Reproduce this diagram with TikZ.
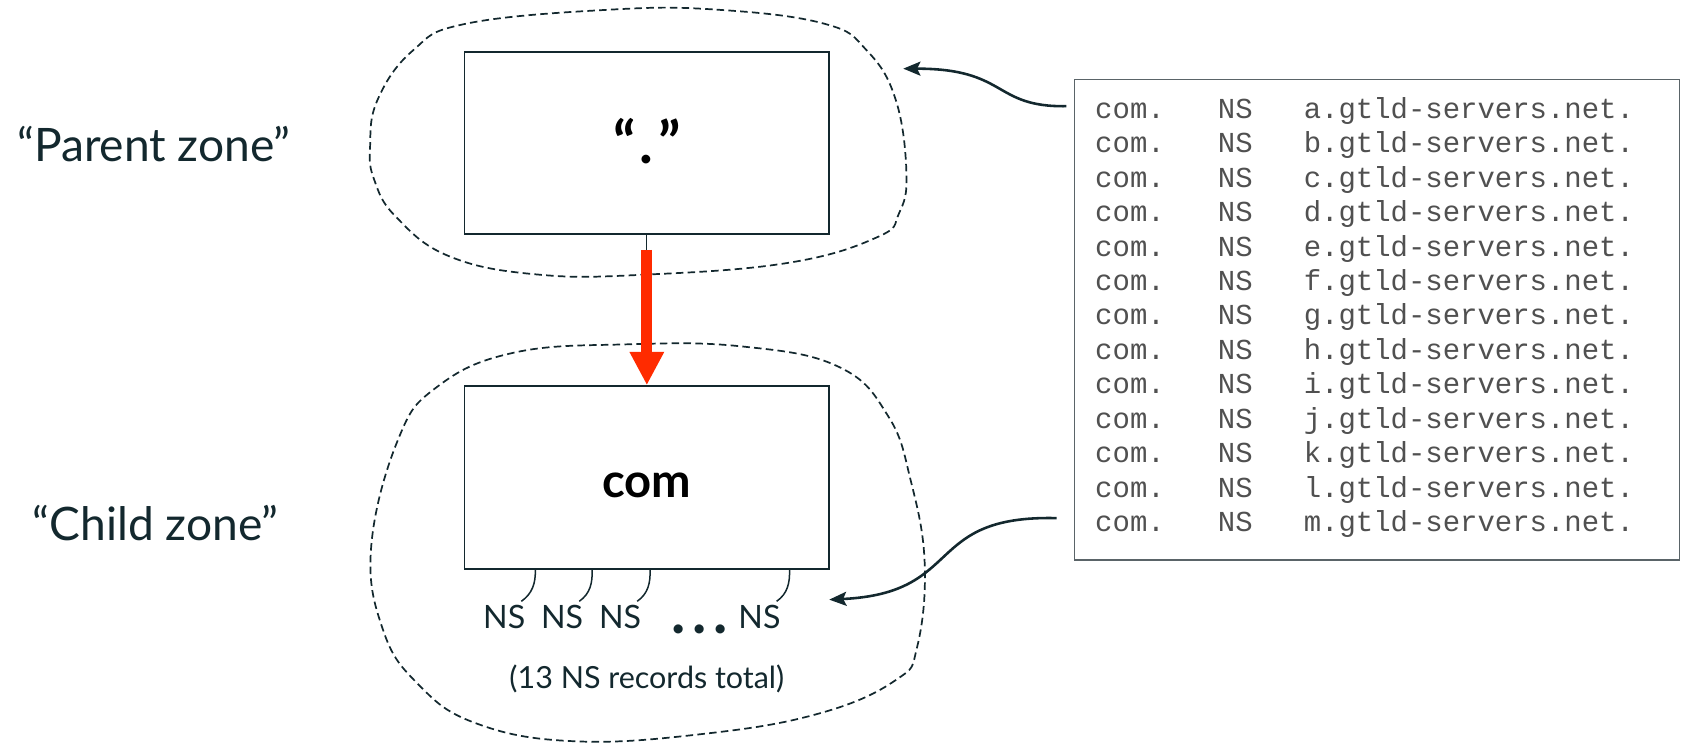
\documentclass[tikz,border=0pt]{standalone}
\usepackage{fontspec}
\setmainfont{Lato}
\setmonofont{Liberation Mono}
\usepackage{tikz}
\usetikzlibrary{arrows.meta,calc,positioning}
\definecolor{inkdark}{HTML}{13282E}
\definecolor{recgray}{HTML}{505050}
\definecolor{recline}{HTML}{5A6468}
\definecolor{delegred}{HTML}{FF2B00}
\tikzset{every picture/.style={
  >={Stealth[length=8pt,width=6.5pt,inset=1.5pt]}  % Filled pointer heads.
  }
}

\begin{document}
\begin{tikzpicture}[
    x=0.5pt,
    y=-0.5pt,
    zonebox/.style={
      rectangle,
      draw=inkdark,
      line width=0.9pt,
      minimum width=170pt,
      minimum height=85pt,
      text height=19pt,
      text depth=0pt,
      inner sep=0pt,
      font=\fontsize{22}{22}\selectfont\bfseries
    },
    zonelabel/.style={
      anchor=base,
      text=inkdark,
      font=\fontsize{21.5}{24}\selectfont
    },
    zoneline/.style={
      draw=inkdark,
      line width=0.8pt,
      dash pattern=on 3.5pt off 2pt
    },
    nsrec/.style={
      anchor=base,
      inner sep=0pt,
      text=inkdark,
      font=\fontsize{15}{15}\selectfont
    },
    nslink/.style={draw=inkdark, line width=0.7pt},
    rec/.style={
      anchor=base west,
      inner sep=0pt,
      text=recgray,
      font=\ttfamily\fontsize{13.5}{13.5}\selectfont
    },
    pointer/.style={->, draw=inkdark, line width=1.2pt},
    delegation/.style={
      draw=delegred,
      line width=5pt,
      -{Triangle[length=15.5pt,width=15pt]}
    }]

    \useasboundingbox (0,0) rectangle (1568,695);

    % The two zones, each a box inside a dashed outline.
    \draw[zoneline] plot[smooth cycle, tension=0.7] coordinates {
      (569,9) (668,9) (768,22) (808,47) (835,93) (845,162) (838,199)
      (818,221) (735,245) (602,256) (502,256) (419,239) (369,202)
      (349,168) (345,137) (352,93) (385,47) (435,22)};
    \draw[zoneline] plot[smooth cycle, tension=0.7] coordinates {
      (585,321) (692,323) (782,342) (828,388) (849,448) (862,525)
      (855,603) (835,634) (764,665) (657,684) (535,691) (443,674)
      (389,637) (357,587) (346,510) (371,410) (407,361) (478,329)};

    \node[zonebox, font=\fontsize{27}{27}\selectfont\bfseries] (root)
      at (603,133.5) {“\hspace{2pt}.\hspace{2pt}”};
    \node[zonebox] (com) at (603,445) {com};

    \node[zonelabel] (parentlbl) at (143.5,150.7) {“Parent zone”};
    \node[zonelabel] (childlbl) at (145,503.4) {“Child zone”};

    % Delegation from the root down to com.
    \coordinate (redstart) at ([yshift=-6.8pt]root.south);
    \draw[draw=inkdark, line width=0.5pt] (root.south) -- (redstart);
    \draw[delegation] (redstart) -- (com.north);

    % NS records hanging below the child box.
    \node[nsrec] (ns1) at (470,585.7) {NS};
    \node[nsrec] (ns2) at (524,585.7) {NS};
    \node[nsrec] (ns3) at (578,585.7) {NS};
    \node[nsrec, font=\fontsize{28}{28}\selectfont\bfseries] (nsdots)
      at (652,591) {.\hspace{3pt}.\hspace{3pt}.};
    \node[nsrec] (ns4) at (708,585.7) {NS};
    \node[nsrec, font=\fontsize{14.2}{14.2}\selectfont] (nstotal)
      at (603,641.7) {(13 NS records total)};

    \foreach \n/\x in {1/499, 2/552, 3/606, 4/736}
      \draw[nslink] (\x,0 |- com.south) to[out=-88, in=35]
        ([xshift=-2pt, yshift=1.5pt]ns\n.north east);

    % The records served by the parent.
    \node[draw=recline, line width=0.6pt, minimum width=282pt,
      minimum height=224pt, inner sep=0pt] (rbox) at (1283.8,298) {};
    \foreach \l [count=\i from 0] in {a,...,m} {
      \node[rec] (rc-\l) at (1020.6,110.3+32.1*\i) {com.};
      \node[rec] (rns-\l) at (1135,110.3+32.1*\i) {NS};
      \node[rec] (rn-\l) at (1215,110.3+32.1*\i) {\l.gtld-servers.net.};
    }

    % Pointers from the record list to both zones.
    \coordinate (tail1) at (994,99);
    \coordinate (tip1) at (842,64);
    \coordinate (tail2) at (985,483);
    \coordinate (tip2) at (773,559);
    \draw[pointer] (tail1) .. controls (925,100) and (940,64) .. (tip1);
    \draw[pointer] (tail2) .. controls (860,480) and (900,553) .. (tip2);
\end{tikzpicture}
\end{document}
